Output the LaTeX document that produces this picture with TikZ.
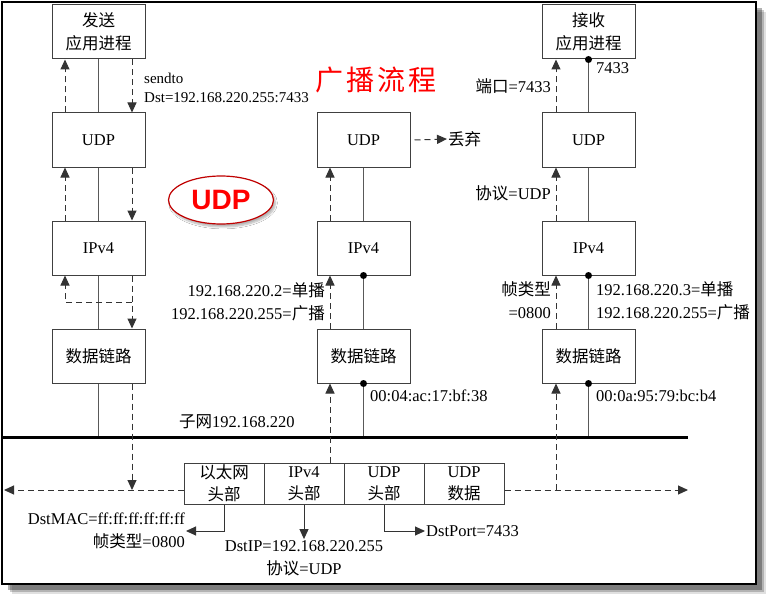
\documentclass[tikz,border=0pt]{standalone}
\usepackage{fontspec}
\setmainfont{Liberation Serif}
\newfontfamily\cjk{Noto Sans CJK SC}
\newfontfamily\headsans{Liberation Sans}
\usetikzlibrary{arrows.meta,positioning,calc,shapes.geometric,shadows.blur}
\definecolor{boxline}{HTML}{404040}
\definecolor{titlered}{HTML}{FF0000}
\definecolor{ovalred}{HTML}{C00000}
\newcommand{\zh}[1]{{\cjk #1}}

\tikzset{
  layer/.style={draw=boxline, line width=1pt, fill=white, minimum width=93pt, minimum height=54pt,
    font=\fontsize{16.5}{23}\selectfont, align=center, inner sep=0pt},
  cell/.style={draw=boxline, line width=1pt, minimum width=80pt, minimum height=41pt,
    font=\fontsize{16.5}{22}\selectfont, align=center, inner sep=0pt},
  lbl/.style={font=\fontsize{16.5}{23}\selectfont, inner sep=1pt},
  link/.style={draw=black!65, line width=1pt},
  dasharr/.style={draw=black!80, line width=1pt, dash pattern=on 6pt off 4pt, -{Triangle[length=10pt,width=9pt]}},
  solidarr/.style={draw=black!80, line width=1pt, -{Triangle[length=10pt,width=9pt]}},
}

\begin{document}
\begin{tikzpicture}[x=1pt, y=-1pt]
  \useasboundingbox (0,0) rectangle (773,599);
  % frame with shadow
  \foreach \d/\op in {10/0.12, 8/0.2, 6/0.3} {
    \fill[black, opacity=\op] (2+\d,2+\d) rectangle (756+\d,584+\d);
  }
  \draw[line width=2.5pt, fill=white] (2,2) rectangle (756,584);

  % protocol stacks
  \node[layer] (sendapp) at (98.5,32) {\zh{发送}\\\zh{应用进程}};
  \node[layer] (sendudp) at (98.5,140) {UDP};
  \node[layer] (sendip) at (98.5,248) {IPv4};
  \node[layer] (sendlink) at (98.5,356) {\zh{数据链路}};
  \node[layer] (midudp) at (363.5,140) {UDP};
  \node[layer] (midip) at (363.5,248) {IPv4};
  \node[layer] (midlink) at (363.5,356) {\zh{数据链路}};
  \node[layer] (recvapp) at (588.5,32) {\zh{接收}\\\zh{应用进程}};
  \node[layer] (recvudp) at (588.5,140) {UDP};
  \node[layer] (recvip) at (588.5,248) {IPv4};
  \node[layer] (recvlink) at (588.5,356) {\zh{数据链路}};

  % frame on the wire
  \node[cell] (ethhdr) at (224,483.5) {\zh{以太网}\\\zh{头部}};
  \node[cell] (iphdr) at (304,483.5) {IPv4\\\zh{头部}};
  \node[cell] (udphdr) at (384,483.5) {UDP\\\zh{头部}};
  \node[cell] (udpdata) at (464,483.5) {UDP\\\zh{数据}};

  \coordinate (netL) at (3,437);
  \coordinate (netR) at (688,437);
  \coordinate (wireL) at (4,490);
  \coordinate (wireR) at (688,490);
  \coordinate (sendup) at (65,0);
  \coordinate (senddown) at (132,0);
  \coordinate (midup) at (330,0);
  \coordinate (recvup) at (556,0);
  \coordinate (loop) at (132,302);

  % solid links
  \draw[link] (sendapp.south) -- (sendudp.north);
  \draw[link] (sendudp.south) -- (sendip.north);
  \draw[link] (sendip.south) -- (sendlink.north);
  \draw[link] (midudp.south) -- (midip.north);
  \draw[link] (midip.south) -- (midlink.north);
  \draw[link] (recvapp.south) -- (recvudp.north);
  \draw[link] (recvudp.south) -- (recvip.north);
  \draw[link] (recvip.south) -- (recvlink.north);
  \draw[link] (sendlink.south) -- (sendlink.south |- netL);
  \draw[link] (midlink.south) -- (midlink.south |- netL);
  \draw[link] (recvlink.south) -- (recvlink.south |- netL);
  \draw[line width=3pt] (netL) -- (netR);
  \foreach \n in {recvapp, recvip, recvlink, midip, midlink} {
    \fill (\n.south) circle (3.5);
  }

  % sending side
  \draw[dasharr] (sendapp.south -| senddown) -- (sendudp.north -| senddown);
  \draw[dasharr] (sendudp.south -| senddown) -- (sendip.north -| senddown);
  \draw[dasharr] (sendip.south -| senddown) -- (sendlink.north -| senddown);
  \draw[dasharr] (sendlink.south -| senddown) -- (wireL -| senddown);
  \draw[dasharr] (sendudp.north -| sendup) -- (sendapp.south -| sendup);
  \draw[dasharr] (sendip.north -| sendup) -- (sendudp.south -| sendup);
  \draw[dasharr] (loop) -- (loop -| sendup) -- (sendip.south -| sendup);

  % on the wire
  \draw[dasharr] (ethhdr.west |- wireL) -- (wireL);
  \draw[dasharr] (udpdata.east |- wireR) -- (wireR);

  % middle host
  \draw[dasharr] (iphdr.north -| midup) -- (midlink.south -| midup);
  \draw[dasharr] (midlink.north -| midup) -- (midip.south -| midup);
  \draw[dasharr] (midip.north -| midup) -- (midudp.south -| midup);
  \node[lbl, anchor=west] (drop) at (447,139) {\zh{丢弃}};
  \draw[dasharr] ([xshift=4pt]midudp.east) -- (drop.west);

  % receiving host
  \draw[dasharr] (wireR -| recvup) -- (recvlink.south -| recvup);
  \draw[dasharr] (recvlink.north -| recvup) -- (recvip.south -| recvup);
  \draw[dasharr] (recvip.north -| recvup) -- (recvudp.south -| recvup);
  \draw[dasharr] (recvudp.north -| recvup) -- (recvapp.south -| recvup);

  % labels
  \node[lbl, anchor=west, align=left, font=\fontsize{15}{19}\selectfont] (sendinfo) at (143,87.5) {sendto\\Dst=192.168.220.255:7433};
  \node[text=titlered, font=\fontsize{28}{28}\selectfont] (title) at (376,80) {\zh{广\hspace{3pt}播\hspace{3pt}流\hspace{3pt}程}};
  \node[ellipse, draw=ovalred, line width=1.2pt, fill=white, minimum width=105pt, minimum height=48pt,
    text=red, font=\headsans\bfseries\fontsize{28}{28}\selectfont, inner sep=0pt,
    blur shadow={shadow xshift=2pt, shadow yshift=-3pt, shadow blur steps=6, shadow opacity=30}] (udpoval) at (221,200) {UDP};
  \node[lbl, anchor=east] (portlbl) at (552,86) {\zh{端口}=7433};
  \node[lbl, anchor=west] (portnum) at (595,68) {7433};
  \node[lbl, anchor=east] (protolbl) at (552,193) {\zh{协议}=UDP};
  \node[lbl, anchor=east, align=right] (typelbl) at (552,300.5) {\zh{帧类型}\\=0800};
  \node[lbl, anchor=west, align=left] (recvaddr) at (595,300.5) {192.168.220.3=\zh{单播}\\192.168.220.255=\zh{广播}};
  \node[lbl, anchor=east, align=right] (midaddr) at (326,301.5) {192.168.220.2=\zh{单播}\\192.168.220.255=\zh{广播}};
  \node[lbl, anchor=west] (midmac) at (369,396) {00:04:ac:17:bf:38};
  \node[lbl, anchor=west] (recvmac) at (595,396) {00:0a:95:79:bc:b4};
  \node[lbl, anchor=west] (subnet) at (178,422) {\zh{子网}192.168.220};

  % header fields
  \node[lbl, anchor=east, align=right] (macinfo) at (186,531) {DstMAC=ff:ff:ff:ff:ff:ff\\\zh{帧类型}=0800};
  \draw[solidarr] (ethhdr.south) |- (macinfo.east);
  \node[lbl, align=center] (ipinfo) at (304,558) {DstIP=192.168.220.255\\\zh{协议}=UDP};
  \draw[solidarr] (iphdr.south) -- (ipinfo.north);
  \node[lbl, anchor=west] (portinfo) at (425,531) {DstPort=7433};
  \draw[solidarr] (udphdr.south) |- (portinfo.west);
\end{tikzpicture}
\end{document}
